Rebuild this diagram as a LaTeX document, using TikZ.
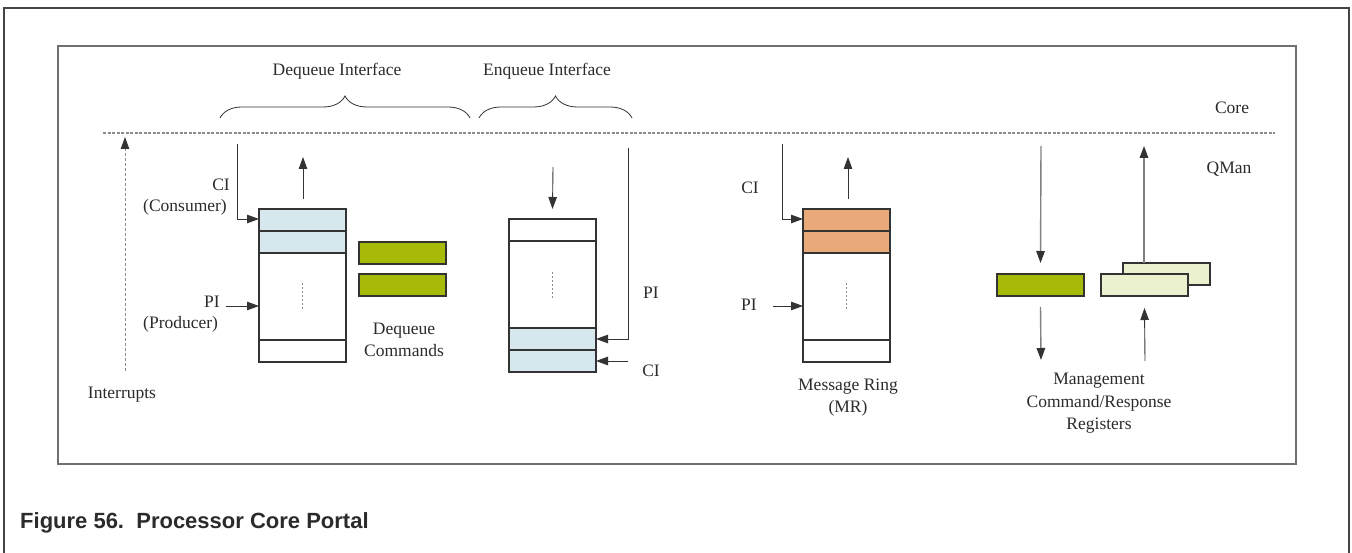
\documentclass[tikz,border=0pt]{standalone}
\usepackage{fontspec}
\setmainfont{Liberation Serif}
\newfontfamily\capfont{Liberation Sans}
\usetikzlibrary{arrows.meta,decorations.pathreplacing}
\definecolor{linec}{HTML}{333333}
\definecolor{textc}{HTML}{2B2B2B}
\definecolor{framec}{HTML}{444444}
\definecolor{innerc}{HTML}{707070}
\definecolor{dashc}{HTML}{8C8C8C}
\definecolor{qblue}{HTML}{D6E8EE}
\definecolor{qorange}{HTML}{E9A978}
\definecolor{qgreen}{HTML}{A8BA08}
\definecolor{qlight}{HTML}{EBF1CE}
\definecolor{greyline}{HTML}{808080}
\newcommand\lbfont{\fontsize{17.5}{22.5}\selectfont}
\tikzset{
  cell/.style={draw=linec, line width=1.1pt, inner sep=0pt, outer sep=0pt, anchor=north west, minimum width=87pt, minimum height=22pt},
  bigcell/.style={cell, minimum height=87pt},
  reg/.style={draw=linec, line width=1.1pt, inner sep=0pt, outer sep=0pt, anchor=north west, minimum width=87pt, minimum height=22pt},
  arr/.style={draw=linec, line width=0.9pt, -{Triangle[length=12pt,width=8.5pt]}},
  garr/.style={draw=greyline, line width=1.4pt, -{Triangle[length=12pt,width=8.5pt,color=linec]}},
  lbl/.style={font=\lbfont, text=textc, inner sep=0pt, align=center},
  brace/.style={draw=linec, line width=0.8pt, decorate, decoration={brace, amplitude=22pt}},
  ringdash/.style={draw=dashc, line width=0.9pt, dash pattern=on 2.5pt off 1.5pt},
}
\begin{document}
\begin{tikzpicture}[x=1pt,y=-1pt]
\useasboundingbox (0,0) rectangle (1352,553);
% frames
\coordinate (oBL) at (4,553);
\coordinate (oTL) at (4,8);
\coordinate (oTR) at (1349,8);
\coordinate (oBR) at (1349,553);
\draw[framec, line width=2.5pt] (oBL) -- (oTL) -- (oTR) -- (oBR);
\coordinate (iTL) at (58,46);
\coordinate (iBR) at (1296,464);
\draw[innerc, line width=1.6pt] (iTL) rectangle (iBR);
% core / qman separator
\coordinate (sepL) at (103,133);
\coordinate (sepR) at (1275,133);
\draw[dashc, line width=1.7pt, dash pattern=on 3pt off 1.5pt] (sepL) -- (sepR);
\node[lbl] (core) at (1232,108) {Core};
\node[lbl] (qman) at (1229,169) {QMan};
% braces
\coordinate (dqL) at (220,118);
\coordinate (dqR) at (470,118);
\coordinate (eqL) at (479,118);
\coordinate (eqR) at (632,118);
\draw[brace] (dqL) -- (dqR);
\draw[brace] (eqL) -- (eqR);
\node[lbl] (dqtitle) at (337,71) {Dequeue Interface};
\node[lbl] (eqtitle) at (547,71) {Enqueue Interface};
% interrupts
\coordinate (intB) at (125,371);
\coordinate (intT) at (125,137);
\draw[draw=dashc, line width=0.9pt, dash pattern=on 3pt off 2pt, -{Triangle[length=12pt,width=8.5pt,color=linec]}] (intB) -- (intT);
\node[lbl] (intlbl) at (122,395) {Interrupts};

% ---------- dequeue ring ----------
\node[cell, fill=qblue] (d1) at (259,209) {};
\node[cell, fill=qblue] (d2) at (259,231) {};
\node[bigcell] (d3) at (259,253) {};
\node[cell] (d4) at (259,340) {};
\draw[ringdash] ([yshift=-30pt]d3.north) -- ([yshift=-57pt]d3.north);
\coordinate (dupB) at (303,199);
\coordinate (dupT) at (303,157);
\draw[arr] (dupB) -- (dupT);
\coordinate (dciT) at (237,144);
\draw[arr] (dciT) |- ([yshift=1pt]d1.west);
\coordinate (dpiS) at (226,306);
\draw[arr] (dpiS) -- (dpiS -| d3.west);
\node[lbl] (dci) at (221,185) {CI};
\node[lbl, anchor=west] (dcons) at (143,207) {(Consumer)};
\node[lbl] (dpi) at (212,302) {PI};
\node[lbl, anchor=west] (dprod) at (143,324) {(Producer)};
\node[reg, fill=qgreen] (dc1) at (359,242) {};
\node[reg, fill=qgreen] (dc2) at (359,274) {};
\node[lbl] (dcmd) at (404,340) {Dequeue\\Commands};

% ---------- enqueue ring ----------
\node[cell] (e1) at (509,219) {};
\node[bigcell] (e2) at (509,241) {};
\node[cell, fill=qblue] (e3) at (509,328) {};
\node[cell, fill=qblue] (e4) at (509,350) {};
\draw[ringdash] ([yshift=-31pt]e2.north) -- ([yshift=-57pt]e2.north);
\coordinate (edT) at (553,167);
\draw[arr] (edT) -- ([yshift=10pt]e1.north);
\coordinate (epiT) at (628,148);
\draw[arr] (epiT) |- ([yshift=0pt]e3.east);
\coordinate (eciS) at (628,361);
\draw[arr] (eciS) -- (eciS -| e4.east);
\node[lbl] (epi) at (651,293) {PI};
\node[lbl] (eci) at (651,371) {CI};

% ---------- message ring ----------
\node[cell, fill=qorange] (m1) at (803,209) {};
\node[cell, fill=qorange] (m2) at (803,231) {};
\node[bigcell] (m3) at (803,253) {};
\node[cell] (m4) at (803,340) {};
\draw[ringdash] ([yshift=-30pt]m3.north) -- ([yshift=-57pt]m3.north);
\coordinate (mupB) at (848,199);
\coordinate (mupT) at (848,157);
\draw[arr] (mupB) -- (mupT);
\coordinate (mciT) at (782,144);
\draw[arr] (mciT) |- ([yshift=1pt]m1.west);
\coordinate (mpiS) at (773,306);
\draw[arr] (mpiS) -- (mpiS -| m3.west);
\node[lbl] (mci) at (750,188) {CI};
\node[lbl] (mpi) at (749,305) {PI};
\node[lbl] (mlbl) at (848,397.5) {Message Ring\\(MR)};

% ---------- management registers ----------
\node[reg, fill=qgreen] (cmd) at (997,274) {};
\node[reg, fill=qlight] (rsp2) at (1123,263) {};
\node[reg, fill=qlight] (rsp1) at (1101,274) {};
\coordinate (gdT) at (1041,146);
\draw[garr] (gdT) -- ([yshift=11pt]cmd.north);
\coordinate (gdB) at (1041,360);
\draw[garr] ([yshift=-11pt]cmd.south) -- (gdB);
\coordinate (guT) at (1144,146);
\draw[garr] (rsp2.north -| guT) -- (guT);
\coordinate (guB) at (1145,361);
\draw[arr] (guB) -- ([yshift=-12pt]rsp1.south);
\node[lbl] (mgmt) at (1099,403.5) {Management\\Command/Response\\Registers};

% caption
\node[anchor=west, inner sep=0pt, text=textc, font={\capfont\bfseries\fontsize{22}{26}\selectfont}] (cap) at (20,523) {Figure 56.\ \ Processor Core Portal};
\end{tikzpicture}
\end{document}
